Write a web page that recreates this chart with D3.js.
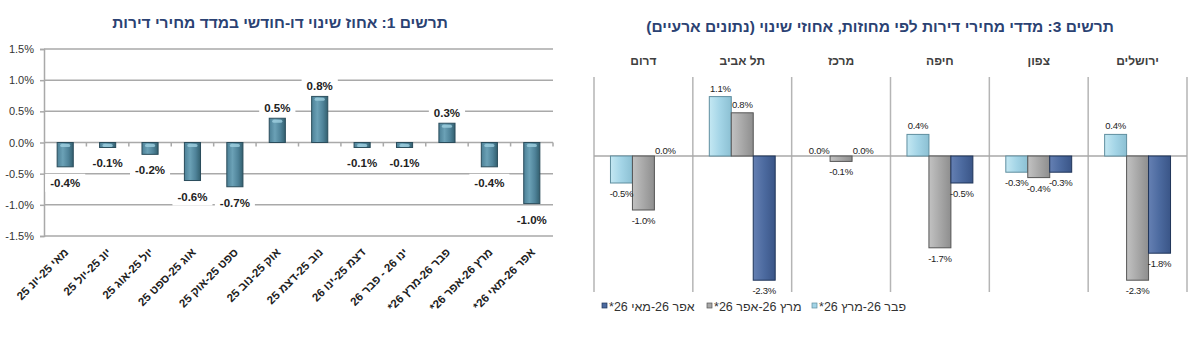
<!DOCTYPE html>
<html>
<head>
<meta charset="utf-8">
<script src="https://cdn.jsdelivr.net/npm/d3@7"></script>
<style>
  body { margin: 0; background: #fff; }
  svg { display: block; font-family: "Liberation Sans", Arial, sans-serif; }
</style>
</head>
<body>
<svg id="chart" width="1200" height="349"></svg>
<script>
// chart 1 - two-month change of the housing price index
const periodLabels = [
  "מאי 25-יונ 25", "יונ 25-יול 25", "יול 25-אוג 25", "אוג 25-ספט 25",
  "ספט 25-אוק 25", "אוק 25-נוב 25", "נוב 25-דצמ 25", "דצמ 25-ינו 26",
  "ינו 26 - פבר 26", "פבר 26-מרץ 26*", "מרץ 26-אפר 26*", "אפר 26-מאי 26*"
];
const periodChange = [-0.39, -0.08, -0.19, -0.61, -0.71, 0.39, 0.74, -0.08, -0.08, 0.31, -0.39, -0.98];
const periodLabelValues = [-0.4, -0.1, -0.2, -0.6, -0.7, 0.5, 0.8, -0.1, -0.1, 0.3, -0.4, -1.0];
const changeTicks = [-1.5, -1.0, -0.5, 0, 0.5, 1.0, 1.5];

// chart 3 - price indices by district
const districts = ["ירושלים", "צפון", "חיפה", "מרכז", "תל אביב", "דרום"];
const seriesNames = ["פבר 26-מרץ 26*", "מרץ 26-אפר 26*", "אפר 26-מאי 26*"];
const febMarChange = [0.4, -0.3, 0.4, 0.0, 1.1, -0.5];
const marAprChange = [-2.3, -0.4, -1.7, -0.1, 0.8, -1.0];
const aprMayChange = [-1.8, -0.3, -0.5, 0.0, -2.3, 0.0];

const titleColor = "#2b4273";
const gridColor = "#a9a9a9";
const seriesStyle = [
  { id: "gLight", stops: ["#c4e8f3", "#a3d4e6", "#8cc0d3"], stroke: "#5f8e9f" },
  { id: "gGray", stops: ["#c2c2c2", "#a8a8a8", "#8e8e8e"], stroke: "#555" },
  { id: "gDark", stops: ["#6580b3", "#4c6a9f", "#3a5587"], stroke: "#1f3459" }
];

// plain hyphen for negatives, like the source
var fmtPct = function(d) { return d.toFixed(1) + "%"; };

/**
 * Wraps hebrew text in a right-to-left embedding.
 */
function rtl(s) {
  return "\u202B" + s + "\u202C";
}

/**
 * Adds the gradients used by the bars.
 */
function buildDefs(svg) {
  var defs = svg.append("defs");
  var steel = defs.append("linearGradient").attr("id", "gSteel")
    .attr("x1", 0).attr("x2", 1).attr("y1", 0).attr("y2", 0);
  [["0", "#4c8096"], ["0.35", "#6ba1b6"], ["0.7", "#4f8399"], ["1", "#33606f"]].forEach(function(s) {
    steel.append("stop").attr("offset", s[0]).attr("stop-color", s[1]);
  });
  seriesStyle.forEach(function(st) {
    var g = defs.append("linearGradient").attr("id", st.id)
      .attr("x1", 0).attr("x2", 1).attr("y1", 0).attr("y2", 0);
    st.stops.forEach(function(c, i) {
      g.append("stop").attr("offset", i / (st.stops.length - 1)).attr("stop-color", c);
    });
  });
}

/**
 * Chart 1: bar chart with a y axis and rotated category labels.
 */
function periodChart(svg) {
  var left = 44, right = 553, top = 49, bottom = 236;
  var g = svg.append("g");

  var xScale = d3.scaleBand()
    .domain(periodLabels)
    .range([left, right])
    .paddingInner(0.62)
    .paddingOuter(0.31);

  var yScale = d3.scaleLinear()
    .domain([-1.5, 1.5])
    .range([bottom, top]);

  g.append("text")
    .attr("x", 280).attr("y", 28)
    .attr("text-anchor", "middle")
    .style("font-size", "15.5px").style("font-weight", "bold")
    .attr("fill", titleColor)
    .text(rtl("תרשים 1: אחוז שינוי דו-חודשי במדד מחירי דירות"));

  g.selectAll(".grid")
    .data(changeTicks)
    .enter().append("line")
    .attr("x1", left).attr("x2", right)
    .attr("y1", function(d) { return yScale(d); })
    .attr("y2", function(d) { return yScale(d); })
    .attr("stroke", gridColor).attr("stroke-width", 1.5);

  var yAxis = g.append("g")
    .attr("transform", "translate(" + left + ",0)")
    .call(d3.axisLeft(yScale).tickValues(changeTicks).tickSize(4).tickPadding(6).tickFormat(fmtPct));
  yAxis.select(".domain").attr("stroke", gridColor).attr("stroke-width", 1.5);
  yAxis.selectAll(".tick line").attr("stroke", gridColor).attr("stroke-width", 1.5);
  yAxis.selectAll("text").attr("fill", "#333").style("font-size", "11px");

  // tick marks between categories on the zero line
  var gap = (xScale.step() - xScale.bandwidth()) / 2;
  var bounds = periodLabels.map(function(d) { return xScale(d) + xScale.bandwidth() + gap; });
  g.selectAll(".ztick")
    .data(bounds)
    .enter().append("line")
    .attr("x1", function(d) { return d; }).attr("x2", function(d) { return d; })
    .attr("y1", yScale(0)).attr("y2", yScale(0) + 4)
    .attr("stroke", gridColor).attr("stroke-width", 1.5);

  var rows = periodLabels.map(function(d, i) {
    return { label: d, value: periodChange[i], text: periodLabelValues[i] };
  });

  g.selectAll(".bar")
    .data(rows)
    .enter().append("rect")
    .attr("x", function(d) { return xScale(d.label); })
    .attr("y", function(d) { return yScale(Math.max(0, d.value)); })
    .attr("width", xScale.bandwidth())
    .attr("height", function(d) { return Math.abs(yScale(d.value) - yScale(0)); })
    .attr("fill", "url(#gSteel)")
    .attr("stroke", "#2a4c5b").attr("stroke-width", 1);

  // light cap next to the zero line
  g.selectAll(".cap")
    .data(rows)
    .enter().append("rect")
    .attr("x", function(d) { return xScale(d.label) + 3; })
    .attr("y", function(d) { return d.value > 0 ? yScale(d.value) + 1.5 : yScale(0) + 1.5; })
    .attr("width", xScale.bandwidth() - 6)
    .attr("height", 3)
    .attr("rx", 1.5)
    .attr("fill", "#9fcfe0").attr("opacity", 0.8);

  var labels = g.selectAll(".dlabel")
    .data(rows)
    .enter().append("g");
  labels.append("rect").attr("fill", "#fff");
  labels.append("text")
    .attr("x", function(d) { return xScale(d.label) + xScale.bandwidth() / 2; })
    .attr("y", function(d) { return d.value > 0 ? yScale(d.value) - 6 : yScale(d.value) + 20; })
    .attr("text-anchor", "middle")
    .style("font-size", "11.5px").style("font-weight", "bold")
    .attr("fill", "#222")
    .text(function(d) { return fmtPct(d.text); });
  labels.each(function() {
    var t = d3.select(this).select("text").node().getBBox();
    d3.select(this).select("rect")
      .attr("x", t.x - 5).attr("y", t.y - 3)
      .attr("width", t.width + 10).attr("height", t.height + 6);
  });

  var xAxis = g.append("g")
    .attr("transform", "translate(0," + bottom + ")")
    .call(d3.axisBottom(xScale).tickSize(0).tickFormat(rtl));
  xAxis.select(".domain").remove();
  xAxis.selectAll("text")
    .attr("y", 0).attr("dy", 0)
    .attr("text-anchor", "end")
    .attr("transform", "translate(4,17) rotate(-45)")
    .attr("fill", "#222")
    .style("font-size", "11.5px").style("font-weight", "bold");
}

/**
 * Chart 3: grouped bars, one panel for each district.
 */
function districtChart(svg) {
  var left = 594, right = 1187, top = 77, bottom = 292;
  var g = svg.append("g");
  var seriesValues = [febMarChange, marAprChange, aprMayChange];

  // districts run right to left
  var x0 = d3.scaleBand()
    .domain(districts.slice().reverse())
    .range([left, right])
    .padding(0);

  var x1 = d3.scaleBand()
    .domain(seriesNames)
    .range([0, x0.bandwidth()])
    .paddingInner(0)
    .paddingOuter(0.75);

  var yScale = d3.scaleLinear()
    .domain([-2.5, 1.5])
    .range([291, 75]);

  g.append("text")
    .attr("x", 880).attr("y", 32)
    .attr("text-anchor", "middle")
    .style("font-size", "15.5px").style("font-weight", "bold")
    .attr("fill", titleColor)
    .text(rtl("תרשים 3: מדדי מחירי דירות לפי מחוזות, אחוזי שינוי (נתונים ארעיים)"));

  var seps = districts.map(function(d) { return x0(d); }).concat([right]);
  g.selectAll(".sep")
    .data(seps)
    .enter().append("line")
    .attr("x1", function(d) { return d; }).attr("x2", function(d) { return d; })
    .attr("y1", top).attr("y2", bottom)
    .attr("stroke", "#b5b5b5").attr("stroke-width", 1.5);

  g.append("line")
    .attr("x1", left).attr("x2", right)
    .attr("y1", yScale(0)).attr("y2", yScale(0))
    .attr("stroke", gridColor).attr("stroke-width", 1.5);

  g.selectAll(".ptitle")
    .data(districts)
    .enter().append("text")
    .attr("x", function(d) { return x0(d) + x0.bandwidth() / 2; })
    .attr("y", 65)
    .attr("text-anchor", "middle")
    .style("font-size", "12px").style("font-weight", "bold")
    .attr("fill", "#404040")
    .text(function(d) { return rtl(d); });

  var cells = [];
  districts.forEach(function(d, i) {
    seriesNames.forEach(function(s, j) {
      cells.push({ district: d, series: s, k: j, value: seriesValues[j][i] });
    });
  });

  g.selectAll(".bar")
    .data(cells.filter(function(d) { return d.value !== 0; }))
    .enter().append("rect")
    .attr("x", function(d) { return x0(d.district) + x1(d.series); })
    .attr("y", function(d) { return yScale(Math.max(0, d.value)); })
    .attr("width", x1.bandwidth())
    .attr("height", function(d) { return Math.abs(yScale(d.value) - yScale(0)); })
    .attr("fill", function(d) { return "url(#" + seriesStyle[d.k].id + ")"; })
    .attr("stroke", function(d) { return seriesStyle[d.k].stroke; })
    .attr("stroke-width", 1);

  g.selectAll(".dlabel")
    .data(cells)
    .enter().append("text")
    .attr("x", function(d) { return x0(d.district) + x1(d.series) + x1.bandwidth() / 2; })
    .attr("y", function(d) {
      if (d.value === 0) return yScale(0) - 2;
      return d.value > 0 ? yScale(d.value) - 5 : yScale(d.value) + 14;
    })
    .attr("text-anchor", "middle")
    .style("font-size", "9.5px")
    .style("letter-spacing", "-0.25px")
    .attr("fill", "#222")
    .text(function(d) { return fmtPct(d.value); });

  // legend, left to right: latest period first
  var legend = g.selectAll(".legend")
    .data(seriesNames.map(function(s, j) { return { name: s, k: j }; }).reverse())
    .enter().append("g")
    .attr("transform", function(d, i) { return "translate(" + (602 + i * 105) + ",306)"; });
  legend.append("rect")
    .attr("x", 0).attr("y", -3)
    .attr("width", 5).attr("height", 5)
    .attr("fill", function(d) { return seriesStyle[d.k].stops[1]; })
    .attr("stroke", function(d) { return seriesStyle[d.k].stroke; })
    .attr("stroke-width", 0.7);
  legend.append("text")
    .attr("x", 7).attr("y", 4.5)
    .style("font-size", "12.5px")
    .attr("fill", "#333")
    .text(function(d) { return rtl(d.name); });
}

var svg = d3.select("#chart");
buildDefs(svg);
periodChart(svg);
districtChart(svg);
</script>
</body>
</html>
